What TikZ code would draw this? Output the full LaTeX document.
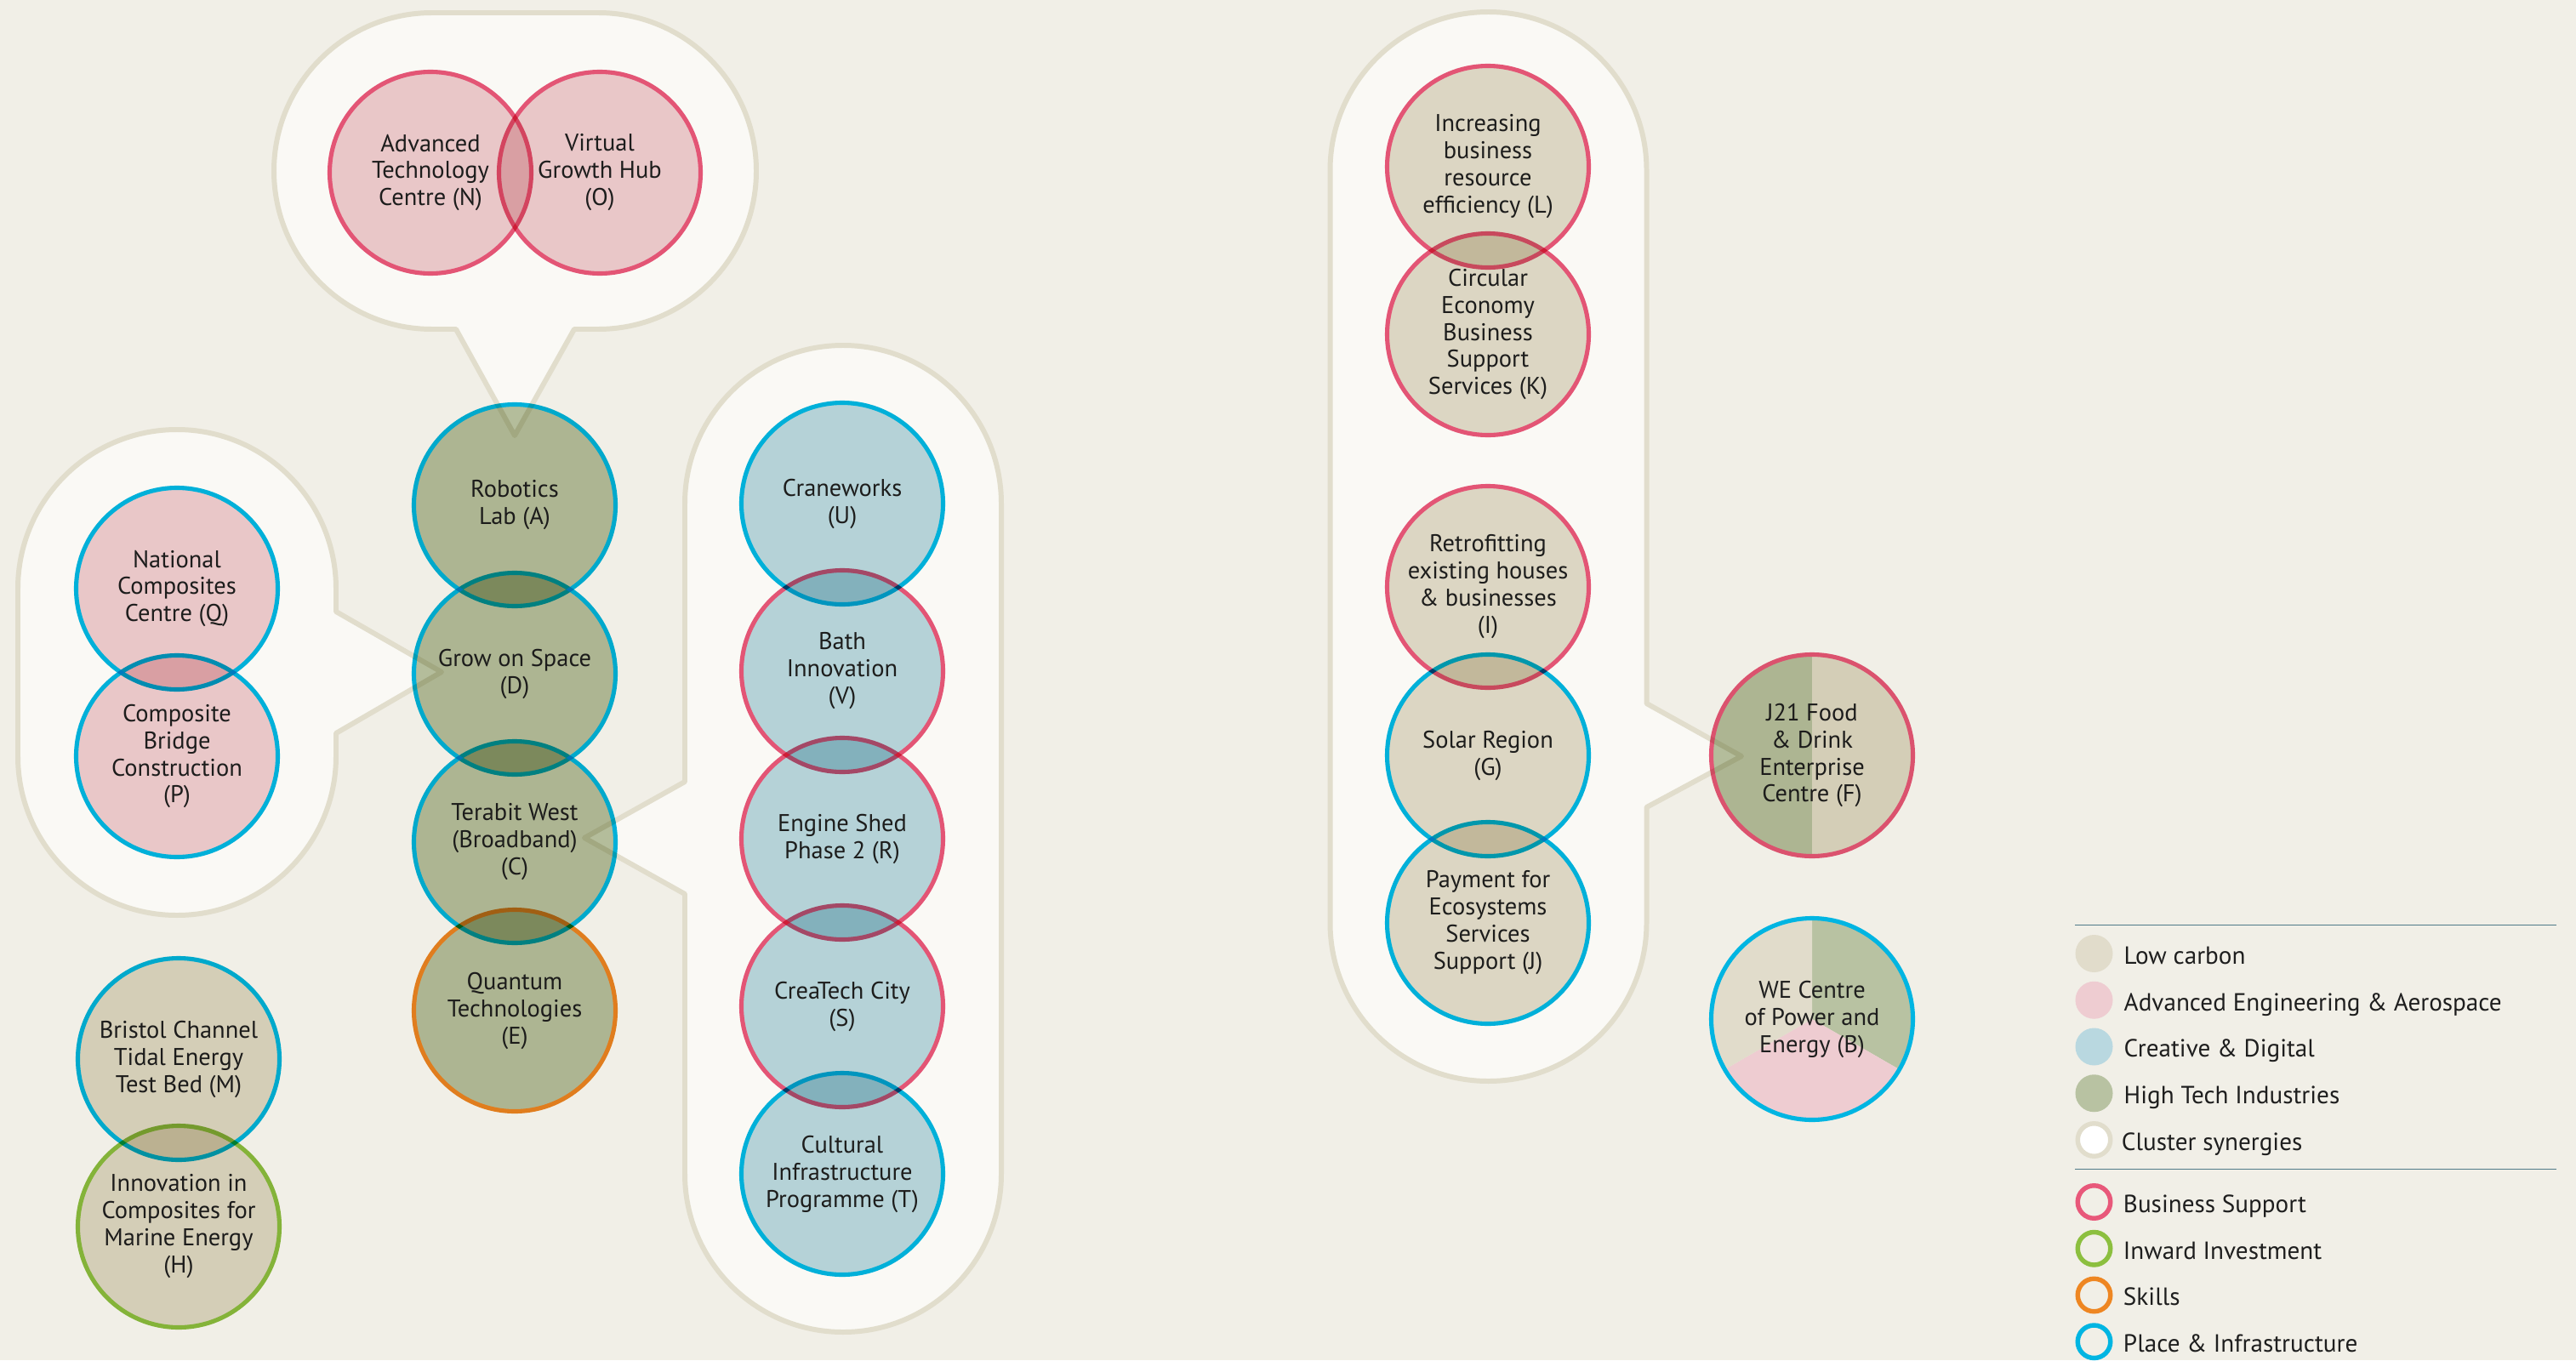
\documentclass[tikz,border=0pt]{standalone}
\usepackage{fontspec}
\setmainfont{PT Sans}
\usetikzlibrary{positioning}
\definecolor{pagebg}{HTML}{F1EFE7}
\definecolor{bubblefill}{HTML}{FAF9F5}
\definecolor{bubbleline}{HTML}{E1DDCC}
\definecolor{lowc}{HTML}{E1DCCB}
\definecolor{aero}{HTML}{EECCD1}
\definecolor{crea}{HTML}{B9D8E0}
\definecolor{htech}{HTML}{B8C2A2}
\definecolor{bsup}{HTML}{E8587A}
\definecolor{inwd}{HTML}{8CBF3F}
\definecolor{skil}{HTML}{EE8622}
\definecolor{plac}{HTML}{00B5E2}
\definecolor{keyrule}{HTML}{4F7A88}
\definecolor{ink}{HTML}{1E1E1E}

\begin{document}
\begin{tikzpicture}[x=1cm,y=1cm,
    proj/.style={circle,minimum size=2.37cm,inner sep=0pt,outer sep=0pt,line width=1.45pt,align=center,text=ink,font=\fontsize{8.1}{9.1}\selectfont},
    bubble/.style={fill=bubblefill,draw=bubbleline,line width=1.7pt,line join=round},
    keydot/.style={circle,minimum size=0.44cm,inner sep=0pt,outer sep=0pt},
    keyring/.style={circle,minimum size=0.385cm,inner sep=0pt,outer sep=0pt,line width=1.55pt},
    keytext/.style={inner sep=0pt,text height=0.7em,text depth=0pt,text=ink,font=\fontsize{8.3}{10}\selectfont}]
        \useasboundingbox (0,0) rectangle (30.28,-15.99);
        \fill[pagebg] (0,0) rectangle (30.28,-15.99);
        % cluster bubbles
        \draw[bubble] (5.36,-3.87) -- (6.05,-5.12) -- (6.75,-3.87) -- (7.03,-3.87) arc[start angle=-90,end angle=90,radius=1.86] -- (5.08,-0.15) arc[start angle=90,end angle=270,radius=1.86] -- cycle;
        \draw[bubble] (3.95,-7.19) -- (5.19,-7.90) -- (3.95,-8.62) -- (3.95,-8.89) arc[start angle=0,end angle=-180,radius=1.87] -- (0.21,-6.92) arc[start angle=180,end angle=0,radius=1.87] -- cycle;
        \draw[bubble] (8.05,-9.19) -- (6.87,-9.85) -- (8.05,-10.51) -- (8.05,-13.80) arc[start angle=180,end angle=360,radius=1.86] -- (11.77,-5.92) arc[start angle=0,end angle=180,radius=1.86] -- cycle;
        \draw[bubble] (19.355,-9.49) -- (20.47,-8.89) -- (19.355,-8.27) -- (19.355,-2.00) arc[start angle=0,end angle=180,radius=1.86] -- (15.635,-10.85) arc[start angle=180,end angle=360,radius=1.86] -- cycle;
        % projects, each one multiplied onto what lies below
        \begin{scope}[blend mode=multiply]
        \foreach \n/\x/\y/\f/\s/\t in {
            N/5.06/-2.03/aero/bsup/{Advanced\\Technology\\Centre (N)},
            O/7.05/-2.03/aero/bsup/{Virtual\\Growth Hub\\(O)},
            A/6.05/-5.94/htech/plac/{Robotics\\Lab (A)},
            D/6.05/-7.92/htech/plac/{Grow on Space\\(D)},
            C/6.05/-9.90/htech/plac/{Terabit West\\(Broadband)\\(C)},
            E/6.05/-11.88/htech/skil/{Quantum\\Technologies\\(E)},
            Q/2.08/-6.92/aero/plac/{National\\Composites\\Centre (Q)},
            P/2.08/-8.89/aero/plac/{Composite\\Bridge\\Construction\\(P)},
            M/2.10/-12.45/lowc/plac/{Bristol Channel\\Tidal Energy\\Test Bed (M)},
            H/2.10/-14.42/lowc/inwd/{Innovation in\\Composites for\\Marine Energy\\(H)},
            U/9.90/-5.92/crea/plac/{Craneworks\\(U)},
            V/9.90/-7.89/crea/bsup/{Bath\\Innovation\\(V)},
            R/9.90/-9.86/crea/bsup/{Engine Shed\\Phase 2 (R)},
            S/9.90/-11.83/crea/bsup/{CreaTech City\\(S)},
            T/9.90/-13.80/crea/plac/{Cultural\\Infrastructure\\Programme (T)},
            L/17.49/-1.96/lowc/bsup/{Increasing\\business\\resource\\efficiency (L)},
            K/17.49/-3.93/lowc/bsup/{Circular\\Economy\\Business\\Support\\Services (K)},
            I/17.49/-6.90/lowc/bsup/{Retrofitting\\existing houses\\\& businesses\\(I)},
            G/17.49/-8.88/lowc/plac/{Solar Region\\(G)},
            J/17.49/-10.85/lowc/plac/{Payment for\\Ecosystems\\Services\\Support (J)}}{
            \begin{scope}[transparency group]
                \node[proj,fill=\f,draw=\s] (\n) at (\x,\y) {\t};
            \end{scope}}
        \begin{scope}[transparency group]
        \node[proj,draw=bsup,path picture={
            \fill[htech] (path picture bounding box.south west) rectangle (path picture bounding box.north);
            \fill[lowc] (path picture bounding box.south) rectangle (path picture bounding box.north east);}]
            (F) at (21.30,-8.88) {J21 Food\\\& Drink\\Enterprise\\Centre (F)};
        \end{scope}
        \end{scope}
        \node[proj,draw=plac,path picture={
            \fill[htech] (path picture bounding box.center) -- +(90:2) -- +(30:2) -- +(-30:2) -- cycle;
            \fill[aero] (path picture bounding box.center) -- +(-30:2) -- +(-90:2) -- +(-150:2) -- cycle;
            \fill[lowc] (path picture bounding box.center) -- +(-150:2) -- +(150:2) -- +(90:2) -- cycle;}]
            (B) at (21.30,-11.98) {WE Centre\\of Power and\\Energy (B)};
        % key
        \draw[keyrule,line width=0.45pt] (24.39,-10.875) -- (30.05,-10.875);
        \draw[keyrule,line width=0.45pt] (24.39,-13.745) -- (30.05,-13.745);
        \foreach \i/\c/\t in {1/lowc/Low carbon,2/aero/Advanced Engineering \& Aerospace,3/crea/Creative \& Digital,4/htech/High Tech Industries}{
            \node[keydot,fill=\c] (kd\i) at (24.615,{-11.21-(\i-1)*0.5475}) {};
            \node[keytext,right=0.125cm of kd\i] (kt\i) {\t};}
        \node[keyring,fill=white,draw=bubbleline] (kd5) at (24.615,-13.40) {};
        \node[keytext,right=0.125cm of kd5] (kt5) {Cluster synergies};
        \foreach \i/\c/\t in {6/bsup/Business Support,7/inwd/Inward Investment,8/skil/Skills,9/plac/Place \& Infrastructure}{
            \node[keyring,draw=\c] (kd\i) at (24.615,{-14.13-(\i-6)*0.5475}) {};
            \node[keytext,right=0.145cm of kd\i] (kt\i) {\t};}
\end{tikzpicture}
\end{document}
